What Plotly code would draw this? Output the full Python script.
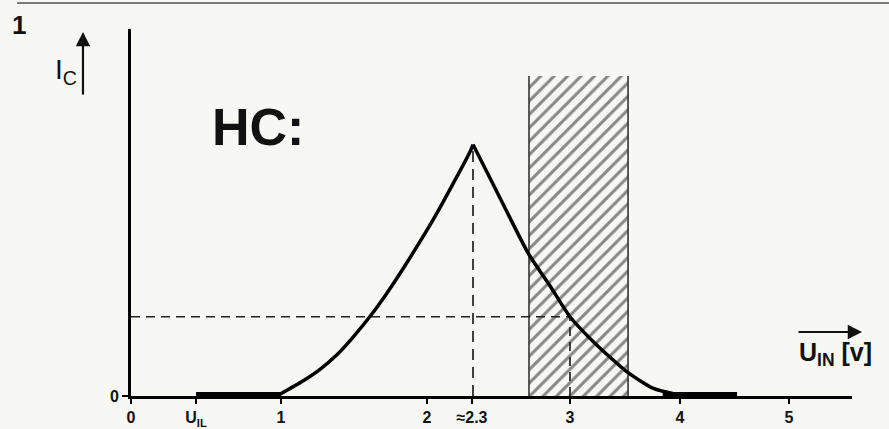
import plotly.graph_objects as go

# ---- data (schematic units: x ~ input voltage position, y ~ relative collector current) ----
tick_pos = [0, 0.438, 1.010, 1.993, 2.296, 2.956, 3.697, 4.431]
tick_text = ["0", "U<sub>IL</sub>", "1", "2", "≈2.3", "3", "4", "5"]

rise_x = [1.000, 1.160, 1.273, 1.385, 1.497, 1.609, 1.722, 1.834, 2.059, 2.283, 2.303]
rise_y = [0.006, 0.060, 0.105, 0.161, 0.233, 0.313, 0.404, 0.503, 0.719, 0.962, 0.990]

fall_x = [2.303, 2.440, 2.675, 2.822, 2.956, 3.113, 3.338, 3.517, 3.675]
fall_y = [0.990, 0.832, 0.562, 0.433, 0.312, 0.214, 0.096, 0.030, 0.006]

flat_low_x = [0.438, 1.010]
flat_high_x = [3.58, 4.081]
flat_y = 0.008

peak_x, peak_y = 2.303, 0.990
op_x, op_y = 2.956, 0.312          # operating point (dashed guides)
hatch_x = [2.680, 3.347]
hatch_top = 1.26

x_range = [0, 4.855]
y_range = [0, 1.445]

FONT = "Liberation Sans, Arial, Helvetica, sans-serif"
BG = "#f7f7f4"

fig = go.Figure()

# hatched band
fig.add_trace(go.Scatter(
    x=[hatch_x[0], hatch_x[1], hatch_x[1], hatch_x[0], hatch_x[0]],
    y=[0, 0, hatch_top, hatch_top, 0],
    fill="toself", mode="none",
    fillcolor="rgba(0,0,0,0)",
    fillpattern=dict(shape="/", size=9.5, solidity=0.32, fgcolor="#1a1a1a",
                     bgcolor="rgba(0,0,0,0)"),
    hoverinfo="skip", showlegend=False))
for hx in hatch_x:
    fig.add_trace(go.Scatter(x=[hx, hx], y=[0, hatch_top], mode="lines",
                             line=dict(color="#333333", width=1.6),
                             hoverinfo="skip", showlegend=False))

# dashed guide lines
dash = "9px,6px"
fig.add_trace(go.Scatter(x=[0, op_x], y=[op_y, op_y], mode="lines",
                         line=dict(color="#222", width=1.7, dash=dash),
                         hoverinfo="skip", showlegend=False))
fig.add_trace(go.Scatter(x=[op_x, op_x], y=[0, op_y], mode="lines",
                         line=dict(color="#222", width=1.7, dash=dash),
                         hoverinfo="skip", showlegend=False))
fig.add_trace(go.Scatter(x=[peak_x, peak_x], y=[0, peak_y], mode="lines",
                         line=dict(color="#222", width=1.7, dash="11px,7px"),
                         hoverinfo="skip", showlegend=False))

# curve
fig.add_trace(go.Scatter(x=flat_low_x, y=[flat_y, flat_y], mode="lines",
                         line=dict(color="black", width=4),
                         hoverinfo="skip", showlegend=False))
fig.add_trace(go.Scatter(x=flat_high_x, y=[flat_y, flat_y], mode="lines",
                         line=dict(color="black", width=4),
                         hoverinfo="skip", showlegend=False))
fig.add_trace(go.Scatter(x=rise_x, y=rise_y, mode="lines",
                         line=dict(color="black", width=3.5, shape="spline", smoothing=0.6),
                         hoverinfo="skip", showlegend=False))
fig.add_trace(go.Scatter(x=fall_x, y=fall_y, mode="lines",
                         line=dict(color="black", width=3.5, shape="spline", smoothing=0.6),
                         hoverinfo="skip", showlegend=False))

annotations = [
    dict(text="<b>1</b>", x=-0.1553, y=1.011, xref="paper", yref="paper", showarrow=False,
         xanchor="center", yanchor="middle",
         font=dict(family=FONT, size=26, color="#111")),
    dict(text="I<sub>C</sub>", x=-0.1082, y=0.883, xref="paper", yref="paper",
         xanchor="left", yanchor="middle", showarrow=False,
         font=dict(family=FONT, size=28, color="#111")),
    dict(text="", x=-0.0666, y=0.9918, ax=0, ay=64, xref="paper", yref="paper",
         axref="pixel", ayref="pixel", showarrow=True, arrowhead=2, arrowsize=1.3,
         arrowwidth=2.2, arrowcolor="#111"),
    dict(text="<b>HC:</b>", x=0.535, y=1.06, xref="x", yref="y", xanchor="left",
         yanchor="middle", showarrow=False, font=dict(family=FONT, size=52, color="#111")),
    dict(text="", x=1.0139, y=0.1744, ax=-65, ay=0, xref="paper", yref="paper",
         axref="pixel", ayref="pixel", showarrow=True, arrowhead=2, arrowsize=1.3,
         arrowwidth=2.2, arrowcolor="#111"),
    dict(text="<b>U<sub>IN</sub> [v]</b>", x=0.9237, y=0.1144, xref="paper", yref="paper",
         xanchor="left", yanchor="middle", showarrow=False,
         font=dict(family=FONT, size=25, color="#111")),
]

fig.update_layout(
    width=889, height=429, autosize=False,
    margin=dict(l=131, r=37, t=29, b=33, pad=0),
    paper_bgcolor=BG, plot_bgcolor=BG,
    showlegend=False,
    annotations=annotations,
    shapes=[dict(type="line", xref="paper", yref="paper",
                 x0=-0.158, x1=1.06, y0=1.071, y1=1.071,
                 line=dict(color="#7a7a7a", width=2))],
    xaxis=dict(range=x_range, showline=True, linewidth=3, linecolor="black",
               ticks="outside", ticklen=5, tickwidth=2, tickcolor="black",
               tickvals=tick_pos, ticktext=tick_text, automargin=False,
               tickfont=dict(family=FONT, size=16, color="#111", weight="bold"),
               showgrid=False, zeroline=False, fixedrange=True),
    yaxis=dict(range=y_range, showline=True, linewidth=3, linecolor="black",
               ticks="outside", ticklen=6, tickwidth=2, tickcolor="black",
               tickvals=[0], ticktext=["0"], automargin=False,
               tickfont=dict(family=FONT, size=16, color="#111", weight="bold"),
               showgrid=False, zeroline=False, fixedrange=True),
)

fig.write_html("out.html", config={"displayModeBar": False},
               post_script="document.body.style.margin='0';")
